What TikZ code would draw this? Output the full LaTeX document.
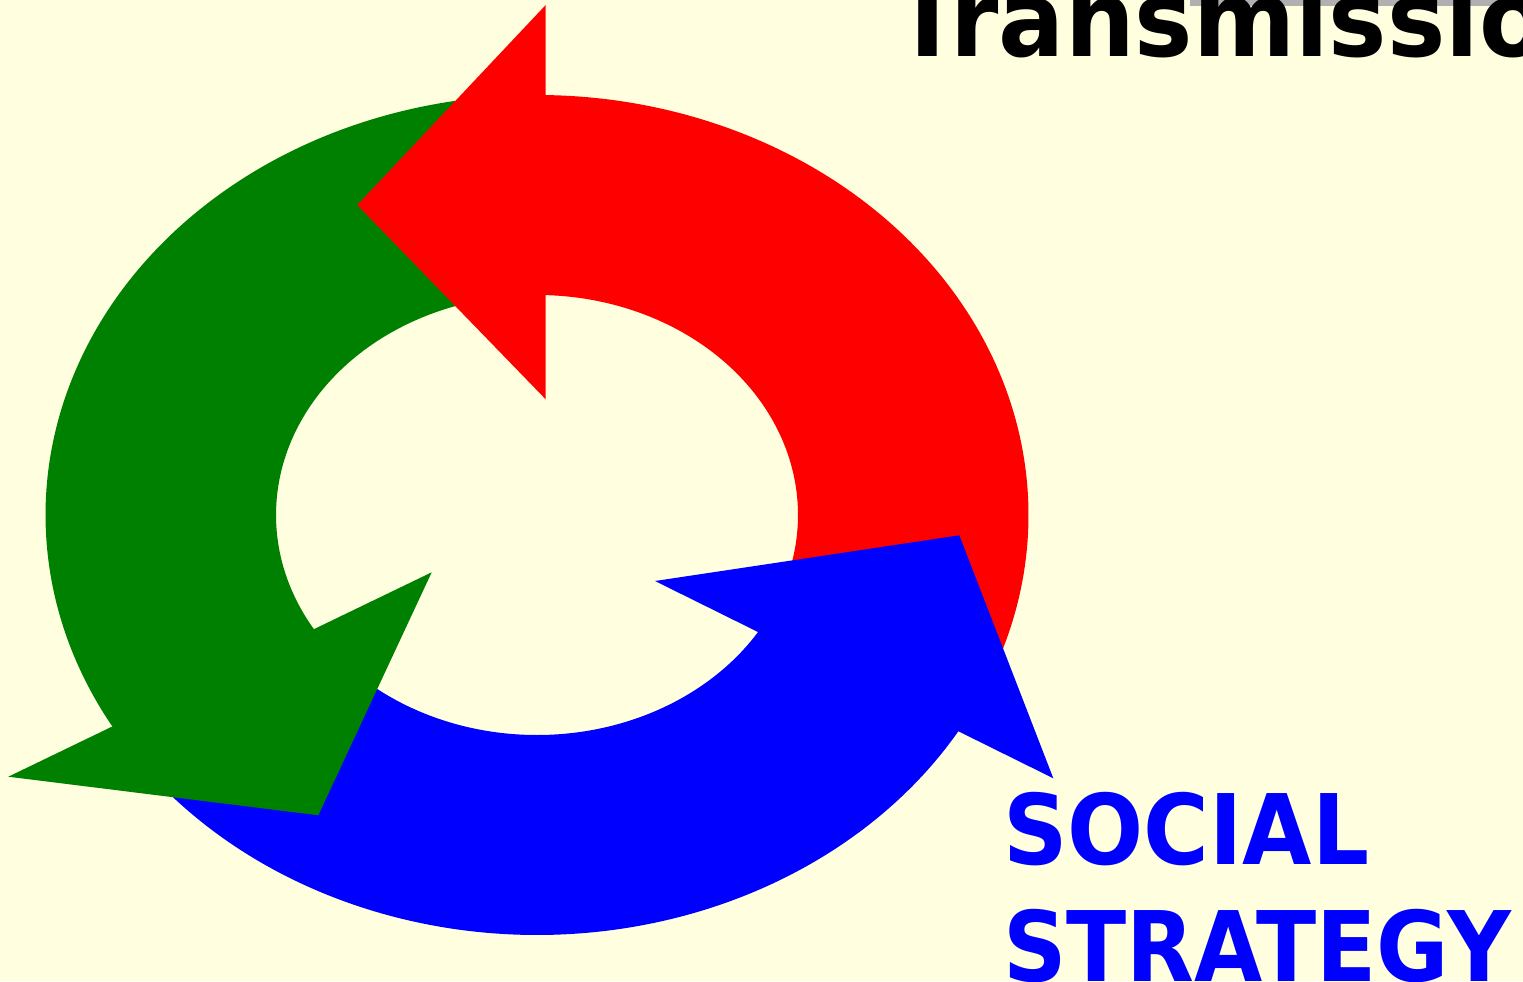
\documentclass[tikz,border=0pt]{standalone}
\usepackage{fontspec}
\setmainfont{DejaVu Sans}
\usetikzlibrary{positioning}
\definecolor{paper}{RGB}{255,255,224}
\definecolor{arrowred}{RGB}{255,0,0}
\definecolor{arrowgreen}{RGB}{0,128,0}
\definecolor{arrowblue}{RGB}{0,0,255}
\definecolor{bargray}{RGB}{176,176,176}
\tikzset
{
    ringbody/.style  = {fill=#1, draw=none},
    ringhead/.style  = {fill=#1, draw=none},
    titletext/.style = {anchor=base west, inner sep=0pt, xscale=0.93, text=black, font=\fontsize{60}{72}\selectfont\bfseries},
    labeltext/.style = {anchor=base west, inner sep=0pt, xscale=#1, text=arrowblue, font=\fontsize{55.4}{66.9}\selectfont\bfseries},
    labeltext/.default = 0.92
}

\begin{document}
\begin{tikzpicture}[x=0.02cm, y=0.02cm]
	 \newcommand\OUTR{491.5 and 420}
	 \newcommand\INR{261 and 220}

	 \useasboundingbox (0,0) rectangle (1523,981);
	 \fill[paper] (0,0) rectangle (1523,981);
	 \clip (0,0) rectangle (1523,981);
	 \coordinate (c) at (537,466);

	 % ring pieces first, heads on top
	 \fill[ringbody=arrowred]   ([shift={(-23.07:\OUTR)}]c) arc (-23.07:90:\OUTR)
	                            -- ([shift={(89:\INR)}]c) arc (89:-23.35:\INR) -- cycle;
	 \fill[ringbody=arrowgreen] ([shift={(98.57:\OUTR)}]c) arc (98.57:211:\OUTR)
	                            -- ([shift={(211.7:\INR)}]c) arc (211.7:98.46:\INR) -- cycle;
	 \fill[ringbody=arrowblue]  ([shift={(219.33:\OUTR)}]c) arc (219.33:330:\OUTR)
	                            -- ([shift={(329:\INR)}]c) arc (329:219.71:\INR) -- cycle;

	 \fill[ringhead=arrowred]   (545.7,976) -- (357.3,776) -- (545.7,581.7) -- cycle;
	 \fill[ringhead=arrowgreen] (431.7,408.7) -- (8.3,204.3) -- (318.3,165.7) -- cycle;
	 \fill[ringhead=arrowblue]  (655,400) -- (959.3,445.7) -- (1053.3,202.7) -- cycle;

	 \fill[bargray] (1190,975) rectangle (1523,981);
	 \node (title)    [titletext]       at (894,924)  {Transmissio};
	 \node (social)   [labeltext]       at (1003,117) {SOCIAL};
	 \node (strategy) [labeltext=0.906] at ([shift={(0,-117.5)}]social.base west) {STRATEGY};
\end{tikzpicture}
\end{document}
